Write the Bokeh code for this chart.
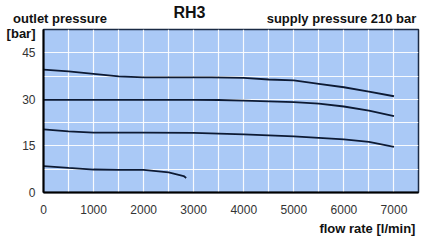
from bokeh.plotting import figure
from bokeh.models import FixedTicker, Range1d, LinearAxis
from bokeh.embed import file_html
from bokeh.resources import INLINE

# ---- data ----
x_c1 = [0, 500, 1000, 1500, 2000, 2500, 3350, 4000, 4500, 5000, 5500, 6000, 6500, 7000]
y_c1 = [39.6, 39.0, 38.2, 37.4, 37.1, 37.1, 37.1, 36.9, 36.4, 36.1, 35.0, 33.9, 32.5, 31.0]

x_c2 = [0, 1000, 2000, 3000, 3500, 4000, 4500, 5000, 5500, 6000, 6500, 7000]
y_c2 = [29.85, 29.85, 29.85, 29.85, 29.8, 29.6, 29.35, 29.1, 28.6, 27.7, 26.4, 24.6]

x_c3 = [0, 500, 1000, 2000, 3000, 4000, 5000, 5500, 6000, 6500, 7000]
y_c3 = [20.3, 19.7, 19.3, 19.3, 19.2, 18.7, 18.1, 17.6, 17.1, 16.3, 14.7]

x_c4 = [0, 500, 1000, 1500, 2000, 2500, 2800, 2850]
y_c4 = [8.5, 7.9, 7.4, 7.3, 7.3, 6.5, 5.3, 4.7]

x_ticks = [0, 1000, 2000, 3000, 4000, 5000, 6000, 7000]
y_ticks = [0, 15, 30, 45]

title_text = "RH3"
ylabel_text = "outlet pressure"
yunit_text = "[bar]"
supply_text = "supply pressure 210 bar"
xlabel_text = "flow rate [l/min]"

FONT = "Liberation Sans"
LINE = "#0d1a33"
W, H = 422, 248

p = figure(width=W, height=H, output_backend="svg", toolbar_location=None,
           x_range=Range1d(0, 7490), y_range=Range1d(0, 52.5),
           min_border_left=43, min_border_right=4, min_border_top=29, min_border_bottom=56)

p.background_fill_color = "#aac9f6"
p.border_fill_color = "white"
p.outline_line_color = "#1a2a44"
p.outline_line_width = 1.5

p.xgrid.ticker = FixedTicker(ticks=[500 * i for i in range(1, 15)])
p.ygrid.ticker = FixedTicker(ticks=[7.5 * i for i in range(1, 7)])
p.grid.grid_line_color = "white"
p.grid.grid_line_width = 1.2
p.grid.grid_line_alpha = 0.9

p.xaxis.ticker = FixedTicker(ticks=x_ticks)
p.yaxis.ticker = FixedTicker(ticks=y_ticks)
for ax in (p.xaxis[0], p.yaxis[0]):
    ax.axis_line_color = "black"
    ax.axis_line_width = 2
    ax.major_tick_line_color = None
    ax.minor_tick_line_color = None
    ax.major_tick_out = 0
    ax.major_tick_in = 0
    ax.minor_tick_out = 0
    ax.major_label_text_font = FONT
    ax.major_label_text_font_size = "12px"
    ax.major_label_text_color = "#333333"
p.xaxis.major_label_standoff = 12
p.yaxis.major_label_standoff = 8


def text_axis(positions, texts, size, standoff):
    """An axis without line/ticks whose only labels are the given texts."""
    return LinearAxis(ticker=FixedTicker(ticks=positions),
                      major_label_overrides=dict(zip(positions, texts)),
                      axis_line_color=None, major_tick_line_color=None, minor_tick_line_color=None,
                      major_tick_out=0, major_tick_in=0, minor_tick_out=0, minor_tick_in=0,
                      major_label_standoff=standoff, major_label_text_font=FONT,
                      major_label_text_font_size=size, major_label_text_font_style="bold",
                      major_label_text_color="#111111")

# header texts (above the frame)
head_pos = [330, 5952]
p.add_layout(text_axis(head_pos, [ylabel_text, supply_text], "13px", 4), "above")
title_pos = [2916]
p.add_layout(text_axis(title_pos, [title_text], "16px", -13), "above")

# unit label at the top-left, beside the frame
unit_pos = [51.2]
p.add_layout(text_axis(unit_pos, [yunit_text], "13px", -16), "left")

# x-axis title at the bottom right
xlab_pos = [6470]
p.add_layout(text_axis(xlab_pos, [xlabel_text], "13px", 4), "below")

for xs, ys in ((x_c1, y_c1), (x_c2, y_c2), (x_c3, y_c3), (x_c4, y_c4)):
    p.line(xs, ys, line_color=LINE, line_width=1.8)

open("out.html", "w").write(file_html(p, INLINE))
